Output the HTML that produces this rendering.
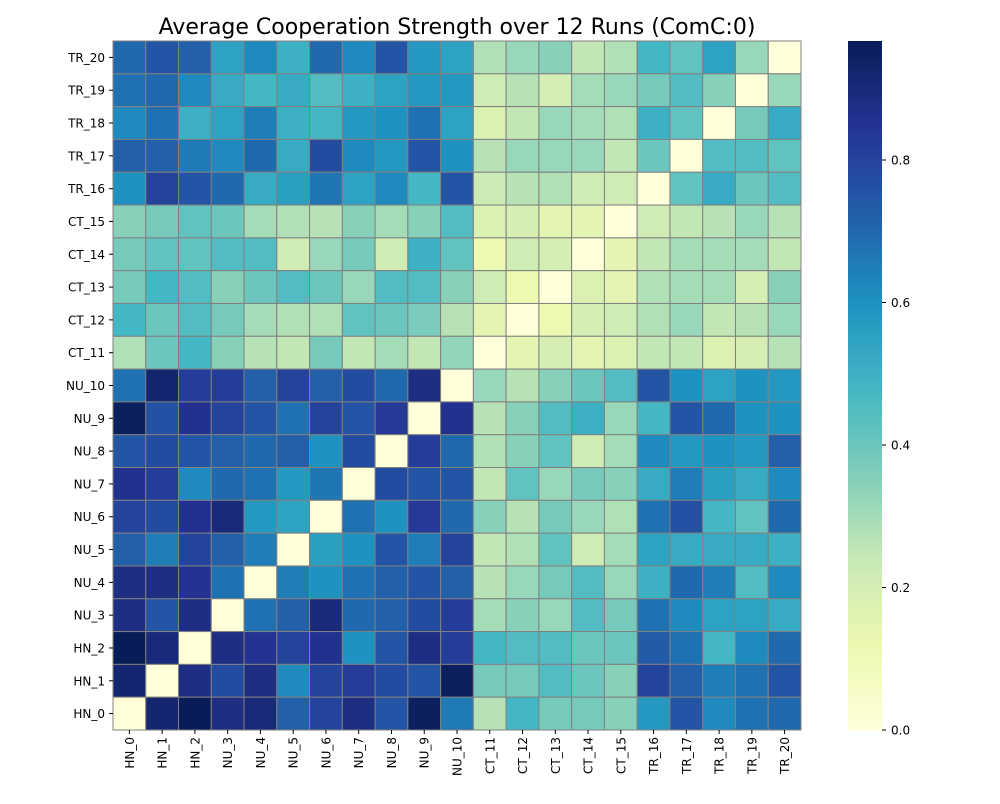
<!DOCTYPE html>
<html><head><meta charset="utf-8"><style>
body{margin:0;background:#fff;font-family:"DejaVu Sans","Liberation Sans",sans-serif}
svg text{font-family:"DejaVu Sans","Liberation Sans",sans-serif}
</style></head><body>
<svg id="chart" width="1000" height="800" xmlns="http://www.w3.org/2000/svg">
<text x="457" y="34" font-size="22" text-anchor="middle">Average Cooperation Strength over 12 Runs (ComC:0)</text>
</svg>
<script>
const colLabels=["HN_0","HN_1","HN_2","NU_3","NU_4","NU_5","NU_6","NU_7","NU_8","NU_9","NU_10","CT_11","CT_12","CT_13","CT_14","CT_15","TR_16","TR_17","TR_18","TR_19","TR_20"];
const rowLabels=["TR_20","TR_19","TR_18","TR_17","TR_16","CT_15","CT_14","CT_13","CT_12","CT_11","NU_10","NU_9","NU_8","NU_7","NU_6","NU_5","NU_4","NU_3","HN_2","HN_1","HN_0"];
const values=[
[0.7,0.75,0.72,0.55,0.62,0.5,0.7,0.62,0.75,0.58,0.55,0.28,0.32,0.35,0.25,0.28,0.48,0.42,0.55,0.32,0],
[0.68,0.7,0.62,0.52,0.48,0.52,0.45,0.5,0.55,0.58,0.58,0.22,0.27,0.2,0.3,0.32,0.38,0.45,0.35,0,0.32],
[0.62,0.68,0.5,0.55,0.65,0.5,0.48,0.58,0.6,0.68,0.55,0.18,0.25,0.32,0.3,0.28,0.5,0.42,0,0.38,0.52],
[0.72,0.72,0.66,0.62,0.7,0.52,0.78,0.62,0.58,0.75,0.6,0.27,0.32,0.32,0.32,0.25,0.4,0,0.45,0.45,0.42],
[0.6,0.8,0.75,0.7,0.52,0.56,0.67,0.55,0.62,0.48,0.75,0.23,0.27,0.28,0.22,0.22,0,0.42,0.52,0.4,0.45],
[0.35,0.38,0.42,0.4,0.3,0.28,0.27,0.35,0.3,0.35,0.45,0.18,0.2,0.15,0.15,0,0.22,0.25,0.27,0.32,0.27],
[0.38,0.42,0.42,0.45,0.45,0.22,0.32,0.38,0.22,0.5,0.42,0.12,0.22,0.2,0,0.15,0.25,0.3,0.3,0.3,0.25],
[0.38,0.48,0.45,0.35,0.4,0.45,0.4,0.32,0.45,0.45,0.35,0.22,0.12,0,0.18,0.15,0.28,0.3,0.3,0.2,0.35],
[0.48,0.4,0.45,0.38,0.3,0.28,0.28,0.42,0.4,0.37,0.27,0.15,0,0.12,0.2,0.22,0.28,0.32,0.25,0.27,0.32],
[0.28,0.4,0.48,0.35,0.27,0.25,0.38,0.25,0.3,0.25,0.33,0,0.15,0.2,0.15,0.18,0.25,0.25,0.18,0.2,0.27],
[0.68,0.92,0.82,0.82,0.72,0.8,0.72,0.78,0.7,0.88,0,0.32,0.27,0.35,0.4,0.45,0.75,0.6,0.55,0.6,0.58],
[0.95,0.76,0.86,0.8,0.75,0.68,0.8,0.75,0.83,0,0.86,0.27,0.35,0.45,0.5,0.32,0.48,0.75,0.7,0.6,0.6],
[0.75,0.78,0.75,0.72,0.7,0.72,0.6,0.78,0,0.82,0.7,0.28,0.35,0.42,0.22,0.3,0.62,0.58,0.6,0.58,0.72],
[0.86,0.82,0.62,0.7,0.68,0.58,0.67,0,0.78,0.75,0.75,0.25,0.42,0.32,0.38,0.35,0.52,0.65,0.56,0.52,0.62],
[0.8,0.78,0.86,0.9,0.58,0.55,0,0.68,0.6,0.83,0.7,0.35,0.27,0.38,0.32,0.28,0.68,0.76,0.48,0.42,0.7],
[0.72,0.65,0.8,0.72,0.65,0,0.56,0.6,0.75,0.65,0.8,0.25,0.28,0.42,0.22,0.3,0.55,0.52,0.52,0.52,0.5],
[0.88,0.88,0.85,0.68,0,0.65,0.6,0.68,0.72,0.75,0.72,0.27,0.32,0.38,0.45,0.32,0.5,0.7,0.65,0.45,0.62],
[0.88,0.75,0.88,0,0.68,0.72,0.9,0.7,0.72,0.78,0.82,0.3,0.35,0.32,0.45,0.38,0.68,0.62,0.55,0.55,0.52],
[0.97,0.9,0,0.88,0.85,0.8,0.86,0.6,0.75,0.88,0.82,0.48,0.45,0.45,0.4,0.4,0.73,0.68,0.48,0.62,0.7],
[0.92,0,0.88,0.78,0.88,0.62,0.8,0.82,0.78,0.75,0.95,0.38,0.38,0.45,0.4,0.35,0.8,0.72,0.65,0.68,0.75],
[0,0.92,0.97,0.88,0.9,0.72,0.8,0.88,0.75,0.95,0.66,0.27,0.48,0.38,0.38,0.35,0.58,0.75,0.62,0.68,0.7]
];
const cbTicks=[0,0.2,0.4,0.6,0.8];
const vmax=0.967;
const NS="http://www.w3.org/2000/svg";
const svg=document.getElementById('chart');
const X0=113,Y0=41,W=688,H=689;
const cw=W/colLabels.length, ch=H/rowLabels.length;
const xPos=i=>X0+i*cw, yPos=j=>Y0+j*ch;
const stops=["#ffffd9","#edf8b1","#c7e9b4","#7fcdbb","#41b6c4","#1d91c0","#225ea8","#253494","#081d58"].map(h=>[1,3,5].map(k=>parseInt(h.substr(k,2),16)));
function color(v){let t=Math.max(0,Math.min(1,v/vmax))*8;let i=Math.min(7,Math.floor(t));let f=t-i;const a=stops[i],b=stops[i+1];return `rgb(${a.map((c,k)=>Math.round(c+(b[k]-c)*f)).join(',')})`;}
function mk(tag,attrs,parent){const e=document.createElementNS(NS,tag);for(const k in attrs)e.setAttribute(k,attrs[k]);(parent||svg).appendChild(e);return e;}
const g=mk('g',{});


values.forEach((row,j)=>row.forEach((v,i)=>{
 const r=mk('rect',{x:xPos(i),y:yPos(j),width:cw,height:ch,fill:color(v),stroke:'#808080','stroke-width':1},g);
 
 
}));
rowLabels.forEach((l,j)=>{
 const y=yPos(j)+ch/2;
 mk('line',{x1:X0-4,x2:X0,y1:y,y2:y,stroke:'#000'});
 const t=mk('text',{x:X0-8,y:y+4.5,'font-size':12,'text-anchor':'end'});
 t.textContent=l;
 
 
});
colLabels.forEach((l,i)=>{
 const x=xPos(i)+cw/2;
 mk('line',{x1:x,x2:x,y1:Y0+H,y2:Y0+H+4,stroke:'#000'});
 const t=mk('text',{x:0,y:0,'font-size':12,'text-anchor':'end',transform:`translate(${x+4.5},${Y0+H+7}) rotate(-90)`});
 t.textContent=l;
 
 
});
const CX=848,CW=34;
const cb=mk('g',{});


for(let p=0;p<H;p++){const v=(1-p/H)*vmax;mk('rect',{x:CX,y:Y0+p,width:CW,height:1.5,fill:color(v)},cb);}
cbTicks.forEach(v=>{
 const y=Y0+H-v/vmax*H;
 mk('line',{x1:CX+CW,x2:CX+CW+4,y1:y,y2:y,stroke:'#000'},cb);
 const t=mk('text',{x:CX+CW+9,y:y+4.5,'font-size':12},cb);
 t.textContent=v.toFixed(1);
 
 
});
</script>
</body></html>
